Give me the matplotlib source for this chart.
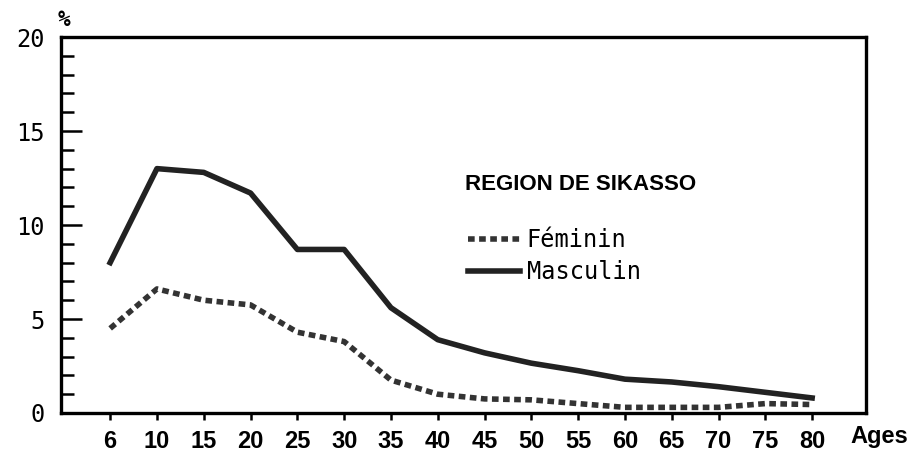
import numpy as np
import matplotlib.pyplot as plt
from matplotlib.ticker import MultipleLocator

# age groups (plotted at evenly spaced positions)
ages = ['6', '10', '15', '20', '25', '30', '35', '40', '45', '50', '55', '60', '65', '70', '75', '80']
feminin = [4.5, 6.6, 6.0, 5.75, 4.3, 3.8, 1.75, 1.0, 0.75, 0.7, 0.5, 0.3, 0.3, 0.3, 0.5, 0.45]
masculin = [8.0, 13.0, 12.8, 11.7, 8.7, 8.7, 5.6, 3.9, 3.2, 2.65, 2.25, 1.8, 1.65, 1.4, 1.1, 0.8]

x = np.arange(len(ages))
bold_font = ['Liberation Sans', 'DejaVu Sans']

fig = plt.figure(figsize=(9.08, 4.63), dpi=100)
ax = fig.add_axes([0.0672, 0.108, 0.8865, 0.812])

ax.plot(x, feminin, color='#333333', lw=4, dashes=(1.2, 0.8), solid_capstyle='butt',
        label='Féminin')
ax.plot(x, masculin, color='#222222', lw=4, label='Masculin')

ax.set_xlim(-1.05, 16.15)
ax.set_ylim(0, 20)

for s in ax.spines.values():
    s.set_linewidth(2.4)

# y axis: inward ticks, minor every unit
ax.yaxis.set_major_locator(MultipleLocator(5))
ax.yaxis.set_minor_locator(MultipleLocator(1))
ax.tick_params(axis='y', which='major', direction='in', length=15, width=1.8,
               labelsize=17, pad=12)
ax.tick_params(axis='y', which='minor', direction='in', length=9, width=1.8)
for lab in ax.get_yticklabels():
    lab.set_family('DejaVu Sans Mono')

# x axis: small outward ticks at the age groups
ax.set_xticks(x)
ax.set_xticklabels(ages, family=bold_font, fontweight='bold', fontsize=17)
ax.tick_params(axis='x', which='major', direction='out', length=5, width=1.8, pad=7)
ax.tick_params(axis='x', which='minor', bottom=False)

fig.text(58 / 908, 1 - 30 / 463, '%', fontsize=15, fontweight='bold', ha='left',
         va='bottom', family='DejaVu Sans Mono')
fig.text(879 / 908, 1 - 437 / 463, 'Ages', fontsize=17, fontweight='bold',
         ha='center', va='center', family=bold_font)

fig.text(465 / 908, 1 - 185 / 463, 'REGION DE SIKASSO', fontsize=16,
         fontweight='bold', ha='left', va='center', family=bold_font)
leg = ax.legend(loc='upper left', bbox_to_anchor=(456 / 908, 1 - 216 / 463),
                bbox_transform=fig.transFigure, frameon=False, borderpad=0,
                handlelength=2.2, handletextpad=0.3, labelspacing=0.35,
                prop={'family': 'DejaVu Sans Mono', 'size': 17})

fig.savefig('out.png', dpi=100)
